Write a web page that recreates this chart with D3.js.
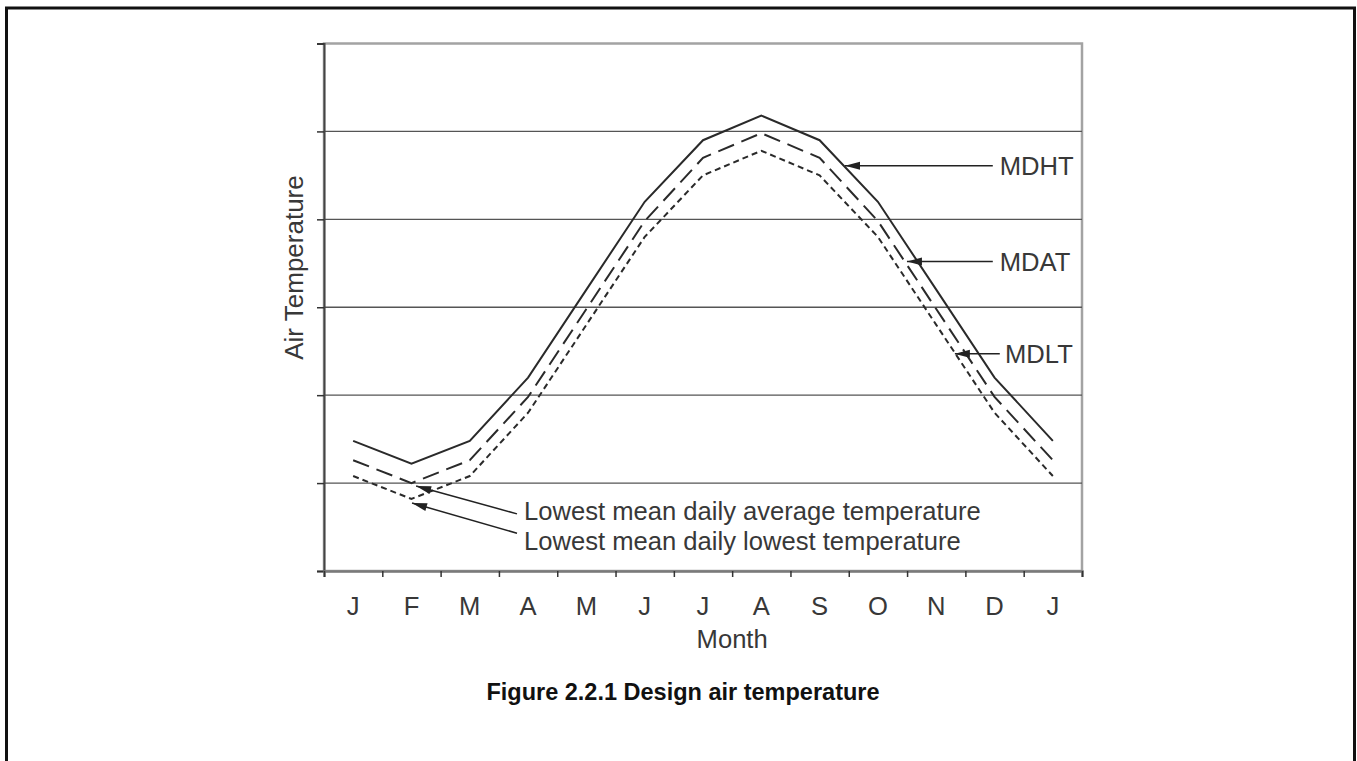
<!DOCTYPE html>
<html>
<head>
<meta charset="utf-8">
<script src="https://cdn.jsdelivr.net/npm/d3@7.9.0/dist/d3.min.js"></script>
<style>
  html, body { margin: 0; padding: 0; background: #fff; }
  svg { display: block; }
</style>
</head>
<body>
<svg id="chart"></svg>
<script>
// month categories along the x axis (13 months, Jan to Jan)
const months = ["J", "F", "M", "A", "M", "J", "J", "A", "S", "O", "N", "D", "J"];

// mean daily temperatures, in gridline units (no scale labels on the original)
const mdht = [1.48, 1.22, 1.48, 2.2, 3.2, 4.2, 4.9, 5.18, 4.9, 4.2, 3.2, 2.2, 1.48];
const mdat = [1.26, 1.0, 1.26, 1.98, 2.98, 3.98, 4.7, 4.98, 4.7, 3.98, 2.98, 1.98, 1.26];
const mdlt = [1.08, 0.82, 1.08, 1.8, 2.8, 3.8, 4.5, 4.78, 4.5, 3.8, 2.8, 1.8, 1.08];

const yTicks = [0, 1, 2, 3, 4, 5, 6];

// annotations: arrow tip, arrow tail, label (x in month units, y in value units)
const labelNotes = [
  { text: "MDHT", tip: [8.935, 4.61], tail: [11.47, 4.61], at: [11.59, 4.61] },
  { text: "MDAT", tip: [9.998, 3.52], tail: [11.47, 3.52], at: [11.59, 3.52] },
  { text: "MDLT", tip: [10.82, 2.47], tail: [11.59, 2.47], at: [11.68, 2.47] }
];
const lowNotes = [
  { text: "Lowest mean daily average temperature", tip: [1.58, 0.966], tail: [3.31, 0.65], at: [3.43, 0.58] },
  { text: "Lowest mean daily lowest temperature", tip: [1.51, 0.773], tail: [3.31, 0.43], at: [3.43, 0.24] }
];

const svgWidth = 1357;
const svgHeight = 761;
const plot = { left: 324, right: 1082, top: 43.5, bottom: 571 };
const font = "'Liberation Sans', Arial, Helvetica, sans-serif";
const ink = "#383838";
const labelSize = "25.6px";

const svg = d3.select("#chart")
  .attr("width", svgWidth)
  .attr("height", svgHeight);

// outer frame (open at the bottom of the picture)
svg.append("rect")
  .attr("x", 6.5)
  .attr("y", 8)
  .attr("width", 1348)
  .attr("height", 820)
  .attr("fill", "none")
  .attr("stroke", "#111")
  .attr("stroke-width", 3);

const xScale = d3.scaleLinear().domain([0, months.length]).range([plot.left, plot.right]);
const yScale = d3.scaleLinear().domain([0, 6]).range([plot.bottom, plot.top]);
const xMid = (i) => xScale(i + 0.5);

// plot box (top + right in light gray)
svg.append("rect")
  .attr("x", plot.left)
  .attr("y", plot.top)
  .attr("width", plot.right - plot.left)
  .attr("height", plot.bottom - plot.top)
  .attr("fill", "none")
  .attr("stroke", "#a3a3a3")
  .attr("stroke-width", 2.5);

// gridlines
svg.append("g")
  .selectAll("line")
  .data(yTicks.filter((d) => d > 0 && d < 6))
  .enter()
  .append("line")
  .attr("x1", plot.left)
  .attr("x2", plot.right)
  .attr("y1", (d) => yScale(d))
  .attr("y2", (d) => yScale(d))
  .attr("stroke", "#555")
  .attr("stroke-width", 1.4);

// y axis, ticks only
const yAxis = svg.append("g")
  .attr("transform", `translate(${plot.left}, 0)`)
  .call(d3.axisLeft(yScale).tickValues(yTicks).tickSize(7).tickFormat(""));
yAxis.select(".domain").attr("stroke", "#444").attr("stroke-width", 2);
yAxis.selectAll(".tick line").attr("stroke", "#333").attr("stroke-width", 1.5);

// x axis, ticks on month boundaries
const xAxis = svg.append("g")
  .attr("transform", `translate(0, ${plot.bottom})`)
  .call(d3.axisBottom(xScale).tickValues(d3.range(0, months.length + 1)).tickSize(6).tickFormat(""));
xAxis.select(".domain").attr("stroke", "#7a7a7a").attr("stroke-width", 2.5);
xAxis.selectAll(".tick line").attr("stroke", "#333").attr("stroke-width", 1.5);

// month labels
svg.append("g")
  .selectAll("text")
  .data(months)
  .enter()
  .append("text")
  .attr("x", (d, i) => xMid(i))
  .attr("y", 615)
  .attr("text-anchor", "middle")
  .style("font-family", font)
  .style("font-size", labelSize)
  .attr("fill", ink)
  .text((d) => d);

svg.append("text")
  .attr("x", xScale(7))
  .attr("y", 648)
  .attr("text-anchor", "middle")
  .style("font-family", font)
  .style("font-size", labelSize)
  .attr("fill", ink)
  .text("Month");

svg.append("text")
  .attr("transform", `translate(${plot.left - 21}, 267.5) rotate(-90)`)
  .attr("text-anchor", "middle")
  .style("font-family", font)
  .style("font-size", "26px")
  .attr("fill", ink)
  .text("Air Temperature");

// series lines
const line = d3.line()
  .x((d, i) => xMid(i))
  .y((d) => yScale(d));

const series = [
  { values: mdht, dash: null },
  { values: mdat, dash: "17,8" },
  { values: mdlt, dash: "6,4" }
];

series.forEach((s) => {
  svg.append("path")
    .datum(s.values)
    .attr("d", line)
    .attr("fill", "none")
    .attr("stroke", "#2a2a2a")
    .attr("stroke-width", 2)
    .attr("stroke-linejoin", "miter")
    .attr("stroke-dasharray", s.dash);
});

// arrow head
svg.append("defs")
  .append("marker")
  .attr("id", "head")
  .attr("markerUnits", "userSpaceOnUse")
  .attr("markerWidth", 20)
  .attr("markerHeight", 20)
  .attr("refX", 0)
  .attr("refY", 0)
  .attr("viewBox", "0 -10 20 20")
  .attr("orient", "auto")
  .append("path")
  .attr("d", "M0,0 L15,-4 L15,4 Z")
  .attr("fill", "#222");

const notes = labelNotes.concat(lowNotes);

svg.append("g")
  .selectAll("path")
  .data(notes)
  .enter()
  .append("path")
  .attr("d", (d) => `M${xScale(d.tip[0])},${yScale(d.tip[1])} L${xScale(d.tail[0])},${yScale(d.tail[1])}`)
  .attr("fill", "none")
  .attr("stroke", "#222")
  .attr("stroke-width", 1.5)
  .attr("marker-start", "url(#head)");

svg.append("g")
  .selectAll("text")
  .data(labelNotes)
  .enter()
  .append("text")
  .attr("x", (d) => xScale(d.at[0]))
  .attr("y", (d) => yScale(d.at[1]))
  .attr("dy", "0.36em")
  .style("font-family", font)
  .style("font-size", labelSize)
  .attr("fill", ink)
  .text((d) => d.text);

svg.append("g")
  .selectAll("text")
  .data(lowNotes)
  .enter()
  .append("text")
  .attr("x", (d) => xScale(d.at[0]))
  .attr("y", (d) => yScale(d.at[1]))
  .style("font-family", font)
  .style("font-size", labelSize)
  .attr("fill", ink)
  .text((d) => d.text);

// caption
svg.append("text")
  .attr("x", 683)
  .attr("y", 700)
  .attr("text-anchor", "middle")
  .style("font-family", font)
  .style("font-size", "23.5px")
  .style("font-weight", "bold")
  .attr("fill", "#111")
  .text("Figure 2.2.1 Design air temperature");
</script>
</body>
</html>
